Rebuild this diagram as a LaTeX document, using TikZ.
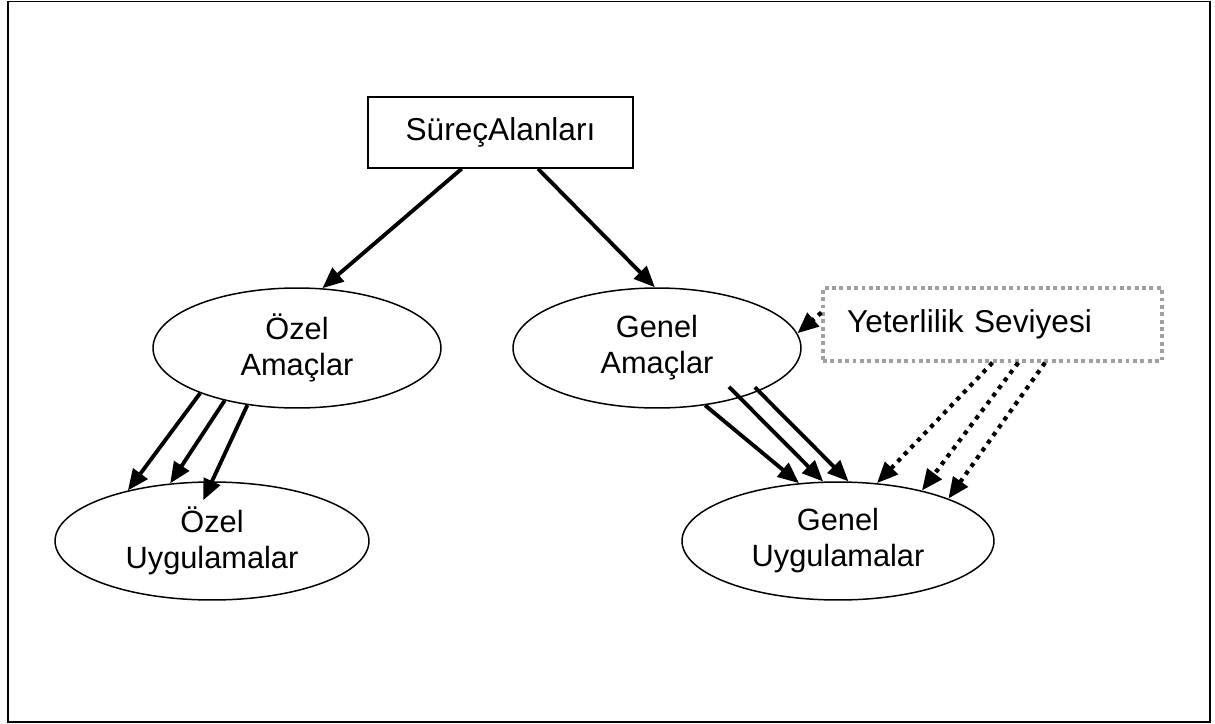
\documentclass[tikz,border=0pt]{standalone}
\usepackage{fontspec}
\setmainfont{Liberation Sans}
\usepackage{tikz}
\usepackage{xcolor}
\usetikzlibrary{arrows.meta, positioning, calc, shapes.geometric}
\definecolor{dotgray}{RGB}{160,160,160}

\begin{document}
\begin{tikzpicture}[
    x=0.02cm, y=-0.02cm,
    box/.style={rectangle, draw, line width=0.85pt, inner sep=0pt,
                font=\fontsize{18}{21}\selectfont},
    yetbox/.style={rectangle, draw=dotgray, line width=1.9pt,
                   dash pattern=on 2.2pt off 2pt, inner sep=0pt,
                   font=\fontsize{18}{21}\selectfont},
    oval/.style={ellipse, draw, line width=0.85pt, inner sep=0pt,
                 align=center, font=\fontsize{17.5}{20.5}\selectfont},
    arr/.style={line width=2.2pt, -{Triangle[length=12pt, width=10pt]}},
    dotarr/.style={arr, line width=2.4pt, dash pattern=on 2.4pt off 3pt}
]
\useasboundingbox (0,0) rectangle (1215,724);
% cerceve
\draw[line width=1.13pt] (8,1.5) rectangle (1209.5,721.5);
% kutular ve elipsler
\node[box, minimum width=5.3cm, minimum height=1.42cm] (sa) at (500.5,132.5) {SüreçAlanları};
\node[oval, minimum width=5.76cm, minimum height=2.4cm] (oa) at (297,348) {Özel\\Amaçlar};
\node[oval, minimum width=5.76cm, minimum height=2.4cm] (ga) at (657,348) {Genel\\Amaçlar};
\node[oval, minimum width=6.28cm, minimum height=2.36cm] (ou) at (212,541) {Özel\\Uygulamalar};
\node[oval, minimum width=6.24cm, minimum height=2.36cm] (gu) at (838,541) {Genel\\Uygulamalar};
\node[yetbox, minimum width=6.78cm, minimum height=1.46cm, text width=5.82cm,
      align=left, inner xsep=0.48cm] (yet) at (992.5,324.5) {Yeterlilik Seviyesi};
% surec alanlarindan amaclara
\draw[arr] (sa.223) -- (oa.67);
\draw[arr] (sa.-44) -- (ga.92);
% ozel amaclardan ozel uygulamalara
\foreach \s/\e in {205/149, 216/126}{
    \draw[arr] (oa.\s) -- (ou.\e);
}
\draw[arr, shorten >=-0.42cm] (oa.229) -- (ou.90);
% genel amaclardan genel uygulamalara
\draw[arr] (ga.310) -- (gu.124);
\draw[arr, shorten <=-0.31cm] (ga.329) -- (gu.104);
\draw[arr, shorten <=-0.11cm] (ga.337) -- (gu.80);
% yeterlilik seviyesi (noktali)
\draw[dotarr] (yet.176) -- (ga.6);
\foreach \s/\e in {270/56, 304/31, 324/21}{
    \draw[dotarr] (yet.\s) -- (gu.\e);
}
\end{tikzpicture}
\end{document}
